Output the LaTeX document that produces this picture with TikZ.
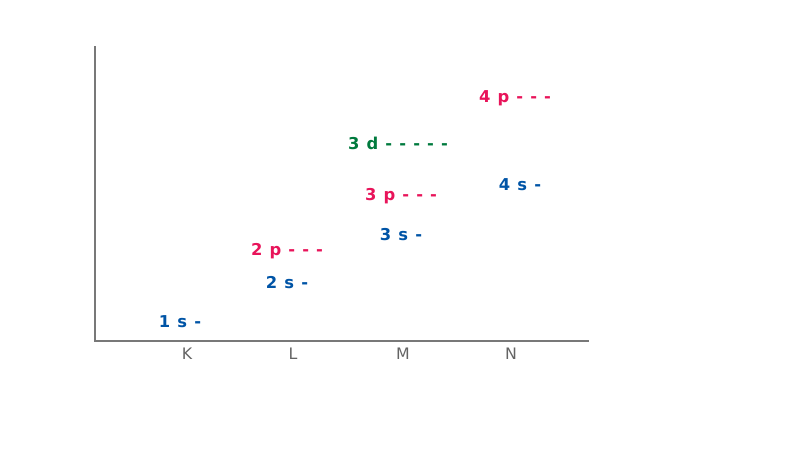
\documentclass[tikz,border=0pt]{standalone}
\usepackage{fontspec}
\setmainfont{DejaVu Sans}
\newfontfamily\levelfont{DejaVu Sans}[WordSpace=1.25]
\usepackage{tikz}
\usetikzlibrary{positioning}

\definecolor{sblue}{RGB}{0,84,166}
\definecolor{ppink}{RGB}{232,20,90}
\definecolor{dgreen}{RGB}{0,122,61}
\definecolor{axisgrey}{RGB}{120,120,120}
\definecolor{labelgrey}{RGB}{100,100,100}

\begin{document}
\begin{tikzpicture}[x=0.02cm, y=-0.02cm]
      \tikzstyle{level} = [inner sep=0pt, font=\levelfont\bfseries\fontsize{9.3}{11}\selectfont]
      \tikzstyle{sorb} = [level, text=sblue]
      \tikzstyle{porb} = [level, text=ppink]
      \tikzstyle{dorb} = [level, text=dgreen]
      \tikzstyle{shell} = [inner sep=0pt, text=labelgrey, font=\fontsize{9}{11}\selectfont]
      \tikzstyle{axis} = [draw=axisgrey, line width=0.85pt]

      \useasboundingbox (0,0) rectangle (800,450);

      % axes
      \coordinate (top) at (95,46);
      \coordinate (origin) at (95,341);
      \coordinate (right) at (589,341);
      \draw [axis] (top) -- (origin) -- (right);

      % shells
      \foreach \lbl/\x in {K/187, L/293, M/403, N/511}
        \node (shell\lbl) [shell] at (\x,354) {\lbl};

      % sublevels
      \node (s1) [sorb] at (180,322) {1 s -};
      \node (s2) [sorb] at (287,283) {2 s -};
      \node (p2) [porb] at (287,251) {2 p - - -};
      \node (s3) [sorb] at (401,235) {3 s -};
      \node (p3) [porb] at (401,196) {3 p - - -};
      \node (d3) [dorb] at (398,143) {3 d - - - - -};
      \node (s4) [sorb] at (520,185) {4 s -};
      \node (p4) [porb] at (515,98) {4 p - - -};

    \end{tikzpicture}
\end{document}
